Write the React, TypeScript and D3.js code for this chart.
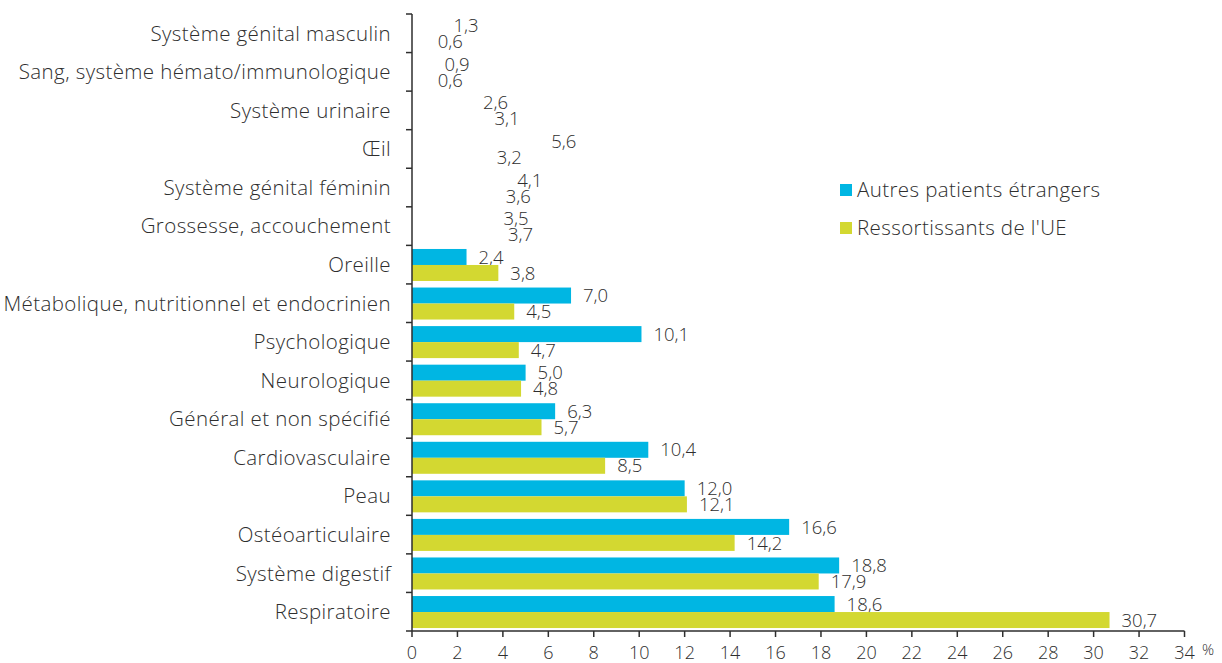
import React from "react";
import * as d3 from "d3";

// Categories, top to bottom
const categories = [
  "Système génital masculin",
  "Sang, système hémato/immunologique",
  "Système urinaire",
  "Œil",
  "Système génital féminin ",
  "Grossesse, accouchement",
  "Oreille",
  "Métabolique, nutritionnel et endocrinien",
  "Psychologique",
  "Neurologique",
  "Général et non spécifié",
  "Cardiovasculaire",
  "Peau",
  "Ostéoarticulaire",
  "Système digestif",
  "Respiratoire",
];

const autresEtrangers = [1.3, 0.9, 2.6, 5.6, 4.1, 3.5, 2.4, 7.0, 10.1, 5.0, 6.3, 10.4, 12.0, 16.6, 18.8, 18.6];
const ressortissantsUE = [0.6, 0.6, 3.1, 3.2, 3.6, 3.7, 3.8, 4.5, 4.7, 4.8, 5.7, 8.5, 12.1, 14.2, 17.9, 30.7];

// the original only draws the bars from "Oreille" down; the top rows show labels only
const barVisible = [false, false, false, false, false, false, true, true, true, true, true, true, true, true, true, true];

const xTicks = d3.range(0, 35, 2);

const seriesNames = ["Autres patients étrangers", "Ressortissants de l'UE"];
const colors = ["#00b6e3", "#d3d831"];

const width = 1222,
  height = 663;
const margin = { top: 14, left: 412, right: 38, bottom: 32 };
const font = "'Open Sans', 'Liberation Sans', Arial, sans-serif";
const textColor = "#2e2e2e";

const fmt = (v: number) => v.toFixed(1).replace(".", ",");

export default function App() {
  const x = d3.scaleLinear().domain([0, 34]).range([margin.left, 1184.5]);
  const y = d3
    .scaleBand()
    .domain(categories)
    .range([margin.top, 631]);
  const bw = y.bandwidth();
  const barH = 16;
  const barTop = 3.6;

  const series = [autresEtrangers, ressortissantsUE];

  return (
    <svg
      width={width}
      height={height}
      style={{ position: "absolute", left: 0, top: 0, background: "#fff" }}
      fontFamily={font}
      fontWeight={300}
    >
      {/* bars */}
      {categories.map((c, i) =>
        series.map((s, k) => {
          const y0 = (y(c) as number) + barTop + k * barH;
          return (
            <g key={c + k}>
              {barVisible[i] && (
                <rect x={x(0)} y={y0} width={x(s[i]) - x(0)} height={barH} fill={colors[k]} />
              )}
              <text
                x={x(s[i]) + 12}
                y={y0 + barH / 2}
                dy="0.36em"
                fontSize={18.5}
                fill={textColor}
              >
                {fmt(s[i])}
              </text>
            </g>
          );
        })
      )}

      {/* y axis */}
      <line x1={x(0)} x2={x(0)} y1={margin.top} y2={631} stroke={textColor} strokeWidth={1.5} />
      {categories.map((c, i) => (
        <g key={c}>
          <line x1={x(0) - 6} x2={x(0)} y1={y(c)} y2={y(c)} stroke={textColor} strokeWidth={1.5} />
          <text
            x={391}
            y={(y(c) as number) + bw / 2}
            dy="0.36em"
            textAnchor="end"
            fontSize={20.5}
            letterSpacing={0.4}
            fill={textColor}
          >
            {c}
          </text>
        </g>
      ))}
      <line x1={x(0) - 6} x2={x(0)} y1={631} y2={631} stroke={textColor} strokeWidth={1.5} />

      {/* x axis */}
      <line x1={x(0)} x2={x(34)} y1={631} y2={631} stroke={textColor} strokeWidth={1.5} />
      {xTicks.map((t) => (
        <g key={t}>
          <line x1={x(t)} x2={x(t)} y1={631} y2={637} stroke={textColor} strokeWidth={1.5} />
          <text x={x(t)} y={653} dy="0.36em" textAnchor="middle" fontSize={18} fill={textColor}>
            {t}
          </text>
        </g>
      ))}
      <text x={1202} y={650} dy="0.36em" fontSize={15} fill={textColor}>
        %
      </text>

      {/* legend */}
      {seriesNames.map((n, k) => (
        <g key={n} transform={`translate(840, ${184 + k * 38})`}>
          <rect x={0} y={0} width={12} height={12} fill={colors[k]} />
          <text x={17} y={6} dy="0.36em" fontSize={20.5} letterSpacing={0.4} fill={textColor}>
            {n}
          </text>
        </g>
      ))}
    </svg>
  );
}
